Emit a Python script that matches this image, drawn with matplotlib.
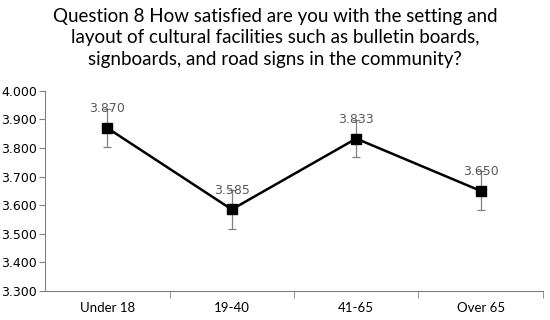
import matplotlib.pyplot as plt
import numpy as np

groups = ['Under 18', '19-40', '41-65', 'Over 65']
means = [3.870, 3.585, 3.833, 3.650]
errors = [0.067, 0.068, 0.066, 0.068]
yticks = [3.3, 3.4, 3.5, 3.6, 3.7, 3.8, 3.9, 4.0]

fig = plt.figure(figsize=(5.5, 3.2), dpi=100)
ax = fig.add_axes([0.082, 0.091, 0.905, 0.625])

x = np.arange(len(groups))
ax.errorbar(x, means, yerr=errors, fmt='none', ecolor='#808080', elinewidth=0.9,
            capsize=3, capthick=0.9, zorder=2)
ax.plot(x, means, color='black', linewidth=1.8, marker='s', markersize=7, zorder=3)

for xi, m in zip(x, means):
    ax.text(xi, m + 0.045, f'{m:.3f}', ha='center', va='bottom', fontsize=9,
            color='#595959', family='DejaVu Sans', zorder=4)

ax.set_xlim(-0.5, len(groups) - 0.5)
ax.set_ylim(3.3, 4.0)
ax.set_yticks(yticks)
ax.set_yticklabels([f'{v:.3f}' for v in yticks], fontsize=9, family='DejaVu Sans')
ax.set_xticks(x)
ax.set_xticklabels(groups, fontsize=9.5, family='Lato')
ax.set_xticks(np.arange(0.5, len(groups)), minor=True)
ax.tick_params(axis='x', which='major', length=0, pad=8)
ax.tick_params(axis='x', which='minor', length=5, color='#808080', direction='out')
ax.tick_params(axis='y', length=4, color='#808080', pad=2)

for side in ['top', 'right']:
    ax.spines[side].set_visible(False)
for side in ['left', 'bottom']:
    ax.spines[side].set_color('#808080')

fig.text(0.5, 0.975, 'Question 8 How satisfied are you with the setting and\n'
         'layout of cultural facilities such as bulletin boards,\n'
         'signboards, and road signs in the community?',
         ha='center', va='top', fontsize=13.5, family='Lato', linespacing=1.32)

fig.savefig('out.png', dpi=100)
